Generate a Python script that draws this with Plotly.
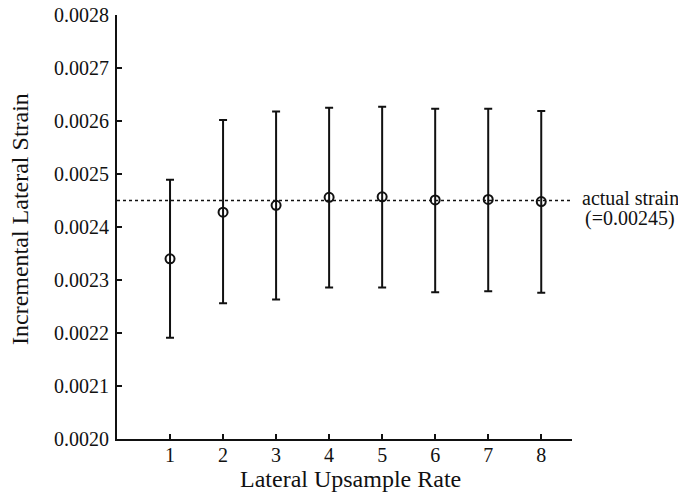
import plotly.graph_objects as go

rates = [1, 2, 3, 4, 5, 6, 7, 8]
mean_strain = [0.002340, 0.002428, 0.002441, 0.002456, 0.002457, 0.002451, 0.002452, 0.002448]
upper_strain = [0.002489, 0.002602, 0.002618, 0.002625, 0.002627, 0.002623, 0.002623, 0.002619]
lower_strain = [0.002191, 0.002256, 0.002263, 0.002286, 0.002286, 0.002277, 0.002279, 0.002276]
actual_strain = 0.00245
y_ticks = [0.0020, 0.0021, 0.0022, 0.0023, 0.0024, 0.0025, 0.0026, 0.0027, 0.0028]
x_ticks = [1, 2, 3, 4, 5, 6, 7, 8]

err_plus = [u - m for u, m in zip(upper_strain, mean_strain)]
err_minus = [m - l for m, l in zip(mean_strain, lower_strain)]

INK = "#111111"
FONT = "Liberation Serif, Times New Roman, serif"

fig = go.Figure()
fig.add_trace(go.Scatter(
    x=rates, y=mean_strain, mode="markers",
    marker=dict(symbol="circle-open", size=9, color=INK, line=dict(width=2, color=INK)),
    error_y=dict(type="data", symmetric=False, array=err_plus, arrayminus=err_minus,
                 color=INK, thickness=2, width=4),
    showlegend=False,
))

x_max = 8.58
fig.add_shape(type="line", x0=0, x1=x_max, y0=actual_strain, y1=actual_strain,
              xref="x", yref="y", line=dict(color=INK, width=1.5, dash="dot"))

fig.add_annotation(x=1.1275, y=0.568, xref="paper", yref="paper",
                   text="actual strain", showarrow=False,
                   xanchor="center", yanchor="middle",
                   font=dict(family=FONT, size=20, color=INK))
fig.add_annotation(x=1.1275, y=0.521, xref="paper", yref="paper",
                   text="(=0.00245)", showarrow=False,
                   xanchor="center", yanchor="middle",
                   font=dict(family=FONT, size=20, color=INK))

# axis titles
fig.add_annotation(x=0, y=0.5, xref="paper", yref="paper", xshift=-97, yshift=8,
                   text="Incremental Lateral Strain", showarrow=False, textangle=-90,
                   xanchor="center", yanchor="middle",
                   font=dict(family=FONT, size=24, color=INK))
fig.add_annotation(x=0.5, y=0, xref="paper", yref="paper", xshift=6, yshift=-25,
                   text="Lateral Upsample Rate", showarrow=False,
                   xanchor="center", yanchor="top",
                   font=dict(family=FONT, size=24, color=INK))

fig.update_layout(
    width=678, height=494,
    margin=dict(l=117, r=106, t=15, b=55, autoexpand=False),
    paper_bgcolor="white", plot_bgcolor="white",
    font=dict(family=FONT, color=INK, size=20),
)
fig.update_xaxes(
    range=[0, x_max], tickvals=x_ticks, ticks="inside", ticklen=5, tickwidth=2,
    tickcolor=INK, showline=True, linecolor=INK, linewidth=2, showgrid=False, zeroline=False,
    tickfont=dict(family=FONT, size=20), automargin=False, ticklabelstandoff=-3,
)
fig.update_yaxes(
    range=[0.0020, 0.0028], tickvals=y_ticks, tickformat=".4f", ticks="inside", ticklen=5,
    tickwidth=2, tickcolor=INK, showline=True, linecolor=INK, linewidth=2, showgrid=False,
    zeroline=False, ticklabelstandoff=2,
    tickfont=dict(family=FONT, size=20), automargin=False,
)

fig.write_html("out.html", config={"displayModeBar": False},
               post_script="document.body.style.margin='0';document.body.style.overflow='hidden';")
